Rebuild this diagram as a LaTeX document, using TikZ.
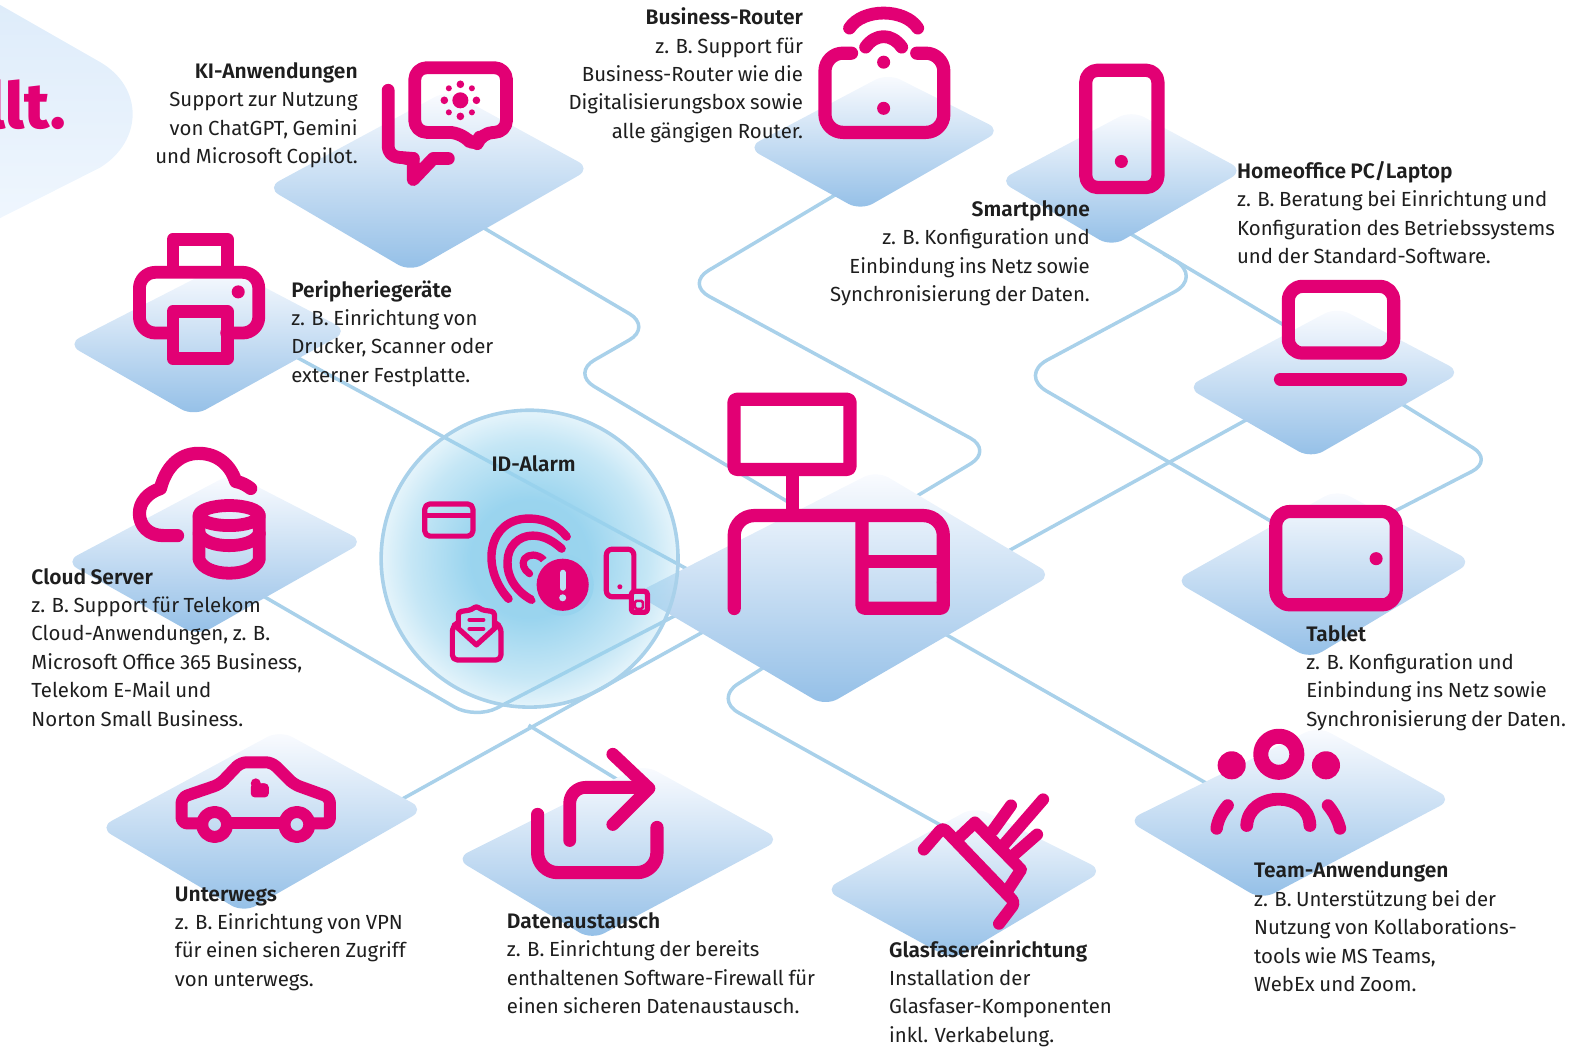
\documentclass[tikz,border=0pt]{standalone}
\usepackage{fontspec}
\setmainfont{Fira Sans}[BoldFont={Fira Sans SemiBold},WordSpace=0.85]
\newfontfamily\heavyf{Fira Sans ExtraBold}
\usetikzlibrary{calc,fadings}
\definecolor{mag}{HTML}{E20074}
\definecolor{lnk}{HTML}{A9D1EA}
\definecolor{txt}{HTML}{1E1E1E}
\definecolor{diaT}{HTML}{FBFCFF}
\definecolor{diaM}{HTML}{C9DEF5}
\definecolor{diaB}{HTML}{93BFE7}
\definecolor{pillT}{HTML}{DEECFA}
\definecolor{pillB}{HTML}{EFF6FE}
\definecolor{idblue}{HTML}{97D3EE}
\definecolor{idlight}{HTML}{BCE2F4}
\pgfdeclareradialshading{idsh}{\pgfpointorigin}{color(0bp)=(pgftransparent!0); color(10bp)=(pgftransparent!3); color(20bp)=(pgftransparent!45); color(27bp)=(pgftransparent!88); color(30bp)=(pgftransparent!100); color(50bp)=(pgftransparent!100)}
\pgfdeclarefading{idfade}{\pgfuseshading{idsh}}
\newcommand{\hd}[1]{{\fontsize{10.5}{14.2}\selectfont\bfseries #1}}
\tikzset{
  x=0.5015pt,y=-0.5015pt,
  link/.style={draw=lnk,line width=1.75pt,line join=round},
  ico/.style={draw=mag,line width=6.4pt,line cap=round,line join=round},
  thin ico/.style={draw=mag,line width=2.6pt,line cap=round,line join=round},
  txl/.style={anchor=north west,align=left,inner sep=0pt,text=txt,font=\fontsize{10.2}{14.2}\selectfont},
  txr/.style={anchor=north east,align=right,inner sep=0pt,text=txt,font=\fontsize{10.2}{14.2}\selectfont},
}
\newcommand{\dia}[6]{%
  \shade[top color=diaT,middle color=diaM,bottom color=diaB,rounded corners=7pt]
    (#1-8,#2) -- (#5,#6+4) -- (#3+8,#4) -- ($(#1-8,#2)+(#3+8,#4)-(#5,#6+4)+(0,6)$) -- cycle;}
\begin{document}
\begin{tikzpicture}
\useasboundingbox (0,0) rectangle (1568.3,1042.9);
\clip (0,0) rectangle (1568.3,1042.9);
% headline pill
\shade[top color=pillT,bottom color=pillB] (-5,2) -- (100,62) .. controls (143,87) and (143,140) .. (100,167) -- (-5,220) -- cycle;
\node[anchor=base east,inner sep=0pt,text=mag,font=\fontsize{32}{32}\selectfont\heavyf] (head) at (66,128.5) {llt.};
% connector anchor points (hidden under the diamonds)
\coordinate (ki) at (470,220);
\coordinate (per) at (290,353);
\coordinate (cld) at (255,590);
\coordinate (rou) at (845,187);
\coordinate (sma) at (1085,208);
\coordinate (lap) at (1290,330);
\coordinate (lapb) at (1385,395);
\coordinate (lapl) at (1260,409);
\coordinate (tab) at (1285,530);
\coordinate (tabr) at (1380,515);
\coordinate (cen) at (790,503);
\coordinate (cenr) at (905,500);
\coordinate (cenR) at (995,555);
\coordinate (cenL) at (690,570);
\coordinate (cenLb) at (690,605);
\coordinate (cenLc) at (710,625);
\coordinate (cenB) at (770,660);
\coordinate (cenBr) at (935,628);
\coordinate (unt) at (395,800);
\coordinate (dat) at (625,783);
\coordinate (gla) at (960,835);
\coordinate (tea) at (1210,785);
\coordinate (br) at (527,723);
\coordinate (hook) at (1160,253);
% connectors
\draw[link,rounded corners=13pt] (ki) -- (650,326) -- (570,372) -- (cen);
\draw[link,rounded corners=13pt] (rou) -- (684,283) -- (990,449) -- (cenr);
\draw[link] (sma) -- (lap);
\draw[link,rounded corners=16pt] (hook) -- (1199,276) -- (1016,374) -- (tab);
\draw[link,rounded corners=12pt] (lapb) -- (1489,459) -- (tabr);
\draw[link] (lapl) -- (cenR);
\draw[link] (per) -- (cenL);
\draw[link,rounded corners=12pt] (cld) -- (474,717) -- (cenLb);
\draw[link] (unt) -- (cenLc);
\draw[link] (br) -- (dat);
\draw[link] (cenBr) -- (tea);
\draw[link,rounded corners=14pt] (cenB) -- (712,697) -- (gla);
% diamonds
\dia{274}{187}{581}{168}{409}{267}
\dia{75}{343}{339}{330}{193}{411}
\dia{753}{147}{990}{130}{858}{206}
\dia{1004}{180}{1232}{170}{1108}{242}
\dia{1191}{386}{1449}{371}{1307}{453}
\dia{1179}{579}{1460}{560}{1306}{653}
\dia{73}{560}{355}{540}{197}{630}
\dia{107}{825}{415}{807}{243}{906}
\dia{462}{856}{770}{837}{590}{933}
\dia{830}{887}{1092}{868}{950}{953}
\dia{1132}{818}{1440}{797}{1258}{893}
\shade[top color=diaT,middle color=diaM,bottom color=diaB,rounded corners=7pt] (633,592) -- (823,704) -- (1049,573) -- (874,469) -- cycle;
% ID-Alarm circle
\fill[idblue,path fading=idfade] (528,557) circle [radius=148];
\draw[lnk,line width=1.8pt] (528,557) circle [radius=148];
% printer
\draw[ico,line cap=butt] (172.5,268) -- (172.5,238.5) -- (226.5,238.5) -- (226.5,268);
\draw[ico,rounded corners=8pt] (172,332) -- (139,332) -- (139,271.5) -- (258,271.5) -- (258,332) -- (226,332);
\draw[ico] (172.5,310.5) rectangle (226.5,357.5);
\fill[mag] (237.5,291) circle [radius=6.5];
% KI
\draw[ico,rounded corners=6pt] (460,132) -- (413.5,132) -- (413.5,67.5) -- (505,67.5) -- (505,132) -- (480,132) -- (474,148) -- cycle;
\fill[mag] (459,100) circle [radius=8];
\foreach \a/\b/\r in {459/84/3.8,475/100/3.8,459/116/3.8,443/100/3.8,447.5/88/3,470.5/88/3,447.5/112/3,470.5/112/3}{\fill[mag] (\a,\b) circle [radius=\r];}
\draw[ico,rounded corners=5pt] (387,90) -- (387,156) -- (412,158);
\draw[ico] (405,158) -- (412,158) -- (412,179) -- (432,158) -- (447,158);
% router
\draw[ico,line width=6.6pt,rounded corners=9pt] (849,53) -- (822.5,53) -- (822.5,132) -- (941,132) -- (941,53) -- (914,53);
\draw[ico] (863,47) .. controls (873,33) and (889,33) .. (899,47);
\draw[ico] (847,28) .. controls (860,8) and (902,8) .. (915,28);
\fill[mag] (881,62) circle [radius=6.5];
\fill[mag] (881,108) circle [radius=6.5];
% smartphone
\draw[ico,line width=6.6pt,rounded corners=6pt] (1082.5,70) rectangle (1154.5,187);
\fill[mag] (1118,161) circle [radius=6.5];
% laptop
\draw[ico,line width=6.6pt,rounded corners=7pt] (1284.5,285.5) rectangle (1389.5,352);
\draw[ico,line width=6.4pt] (1276.5,378) -- (1396.5,378);
% tablet
\draw[ico,line width=6.6pt,rounded corners=7pt] (1272,510) rectangle (1392,603);
\fill[mag] (1372,557) circle [radius=6.5];
% central network
\draw[ico,line width=6.6pt,rounded corners=1.5pt] (731.8,398) rectangle (847.5,468);
\draw[ico,line width=6.6pt,line cap=butt] (790,468) -- (790,514);
\draw[ico,line width=6.6pt,rounded corners=10pt] (732,606.7) -- (732,514) -- (940.5,514) -- (940.5,580);
\draw[ico,line width=6.6pt,line cap=butt,rounded corners=1.5pt] (940.5,580) -- (940.5,606.5) -- (859.4,606.5) -- (859.4,514);
\draw[ico,line width=6.6pt,line cap=butt] (859.4,560) -- (940.5,560);
% cloud + database
\draw[ico,line width=6.6pt] (177,534) -- (163,534) .. controls (148,534) and (139,524) .. (139,512) .. controls (139,500) and (148,491) .. (160,487) .. controls (165,467) and (178,452) .. (198,452) .. controls (217,452) and (230,464) .. (235,480) .. controls (241,481) and (246,484) .. (250,487);
\draw[ico] (228.5,514) ellipse [x radius=30,y radius=10];
\draw[ico] (198.5,514) -- (198.5,558) .. controls (205,576) and (252,576) .. (258.5,558) -- (258.5,514);
\draw[ico] (198.5,532) .. controls (205,548) and (252,548) .. (258.5,532);
% car
\draw[ico,line width=6pt,rounded corners=3pt] (197,821) -- (181,821) -- (181,795) -- (219,782) -- (240,760) -- (271,760) -- (293,782) -- (329,795) -- (329,821) -- (313,821);
\draw[ico,line width=6pt] (231,821) -- (278,821);
\draw[ico,line width=6pt] (214,822) circle [radius=12.5];
\draw[ico,line width=6pt] (296,822) circle [radius=12.5];
\fill[mag] (255,781) circle [radius=5];
\fill[mag] (262,787) circle [radius=6];
\fill[mag,rounded corners=2pt] (250,781) rectangle (268,795);
% data exchange
\draw[ico,line width=6.6pt,rounded corners=10pt] (536,812) -- (536,870) -- (655,870) -- (655,825);
\draw[ico,rounded corners=8pt] (568,838) -- (568,785) -- (645,785);
\draw[ico] (611,752) -- (647,786) -- (611,822);
% fibre
\draw[ico,line width=6pt,rounded corners=2pt] (921,847) -- (940,825) -- (1012,900) -- (996,921);
\draw[ico,line width=6pt] (953,838) -- (972,820) -- (1018,867) -- (1003,890);
\draw[ico,line width=6pt] (990,828) -- (1008,803);
\draw[ico,line width=6pt] (1001,842) -- (1040,797);
\draw[ico,line width=6pt] (1010,853) -- (1034,832);
% team
\draw[ico,line width=7.5pt] (1275,752) circle [radius=18];
\fill[mag] (1228,763) circle [radius=14];
\fill[mag] (1322,763) circle [radius=14];
\draw[ico] (1243,823) .. controls (1245,788) and (1305,788) .. (1306,823);
\draw[ico,line width=6.2pt] (1224,803) .. controls (1218,810) and (1214,818) .. (1213,826);
\draw[ico,line width=6.2pt] (1324,803) .. controls (1330,810) and (1334,818) .. (1336,826);
% ID-Alarm icons
\draw[thin ico,rounded corners=2.5pt] (423.5,502.5) rectangle (471.5,534.5);
\draw[thin ico,line cap=butt] (423,514) -- (472,514);
\draw[ico,line width=4.2pt] (507,597) .. controls (478,565) and (487,517) .. (527,517) .. controls (545,517) and (557,525) .. (565,535);
\draw[ico,line width=4.2pt] (530,598) .. controls (515,590) and (505,575) .. (506,560) .. controls (506,545) and (517,534) .. (531,534) .. controls (543,534) and (552,540) .. (560,547);
\draw[ico,line width=3.6pt] (528,572) .. controls (522,568) and (520,562) .. (523,557) .. controls (527,552) and (536,552) .. (542,558);
\fill[idblue] (561,583) circle [radius=31];
\fill[mag] (561,583) circle [radius=26];
\draw[idlight,line width=3pt,line cap=round] (561,571) -- (561,586);
\fill[idlight] (561,596) circle [radius=3.5];
\draw[thin ico,rounded corners=3pt] (604.5,547.5) rectangle (632,595);
\fill[mag] (618,585) circle [radius=2.5];
\draw[thin ico,fill=idlight,rounded corners=1.5pt] (629.5,589.5) rectangle (645.5,610.5);
\draw[mag,line width=1.3pt,rounded corners=.8pt] (633,599) rectangle (641,607);
\draw[thin ico,rounded corners=2.5pt] (456,621) -- (451,625) -- (451,658) -- (499.5,658) -- (499.5,625) -- (494,621);
\draw[thin ico,rounded corners=1.5pt] (457,625) -- (457,610) -- (470,608) -- (475,604) -- (480,608) -- (493,610) -- (493,625);
\draw[thin ico] (453,623) -- (475,643) -- (497,623);
\draw[mag,line width=2pt,line cap=round] (468,618) -- (482,618);
\draw[mag,line width=2pt,line cap=round] (468,627) -- (482,627);
% texts
\node[txr] (tki) at (357,62) {\hd{KI-Anwendungen}\\Support zur Nutzung\\von ChatGPT, Gemini\\und Microsoft Copilot.};
\node[txr] (trou) at (801,7.5) {\hd{Business-Router}\\z. B. Support für\\Business-Router wie die\\Digitalisierungsbox sowie\\alle gängigen Router.};
\node[txr] (tsma) at (1087,199.5) {\hd{Smartphone}\\z. B. Konfiguration und\\Einbindung ins Netz sowie\\Synchronisierung der Daten.};
\node[txl] (thom) at (1233,160.5) {\hd{Homeoffice PC/Laptop}\\z. B. Beratung bei Einrichtung und\\Konfiguration des Betriebssystems\\und der Standard-Software.};
\node[txl] (tper) at (290,279) {\hd{Peripheriegeräte}\\z. B. Einrichtung von\\Drucker, Scanner oder\\externer Festplatte.};
\node[txl,anchor=center] (tid) at (532,462) {\hd{ID-Alarm}};
\node[txl] (tcld) at (31,566) {\hd{Cloud Server}\\z. B. Support für Telekom\\Cloud-Anwendungen, z. B.\\Microsoft Office 365 Business,\\Telekom E-Mail und\\Norton Small Business.};
\node[txl] (ttab) at (1302,623) {\hd{Tablet}\\z. B. Konfiguration und\\Einbindung ins Netz sowie\\Synchronisierung der Daten.};
\node[txl] (ttea) at (1250,859) {\hd{Team-Anwendungen}\\z. B. Unterstützung bei der\\Nutzung von Kollaborations-\\tools wie MS Teams,\\WebEx und Zoom.};
\node[txl] (tunt) at (174,883.5) {\hd{Unterwegs}\\z. B. Einrichtung von VPN\\für einen sicheren Zugriff\\von unterwegs.};
\node[txl] (tdat) at (505,909.5) {\hd{Datenaustausch}\\z. B. Einrichtung der bereits\\enthaltenen Software-Firewall für\\einen sicheren Datenaustausch.};
\node[txl] (tgla) at (886,937) {\hd{Glasfasereinrichtung}\\Installation der\\Glasfaser-Komponenten\\inkl. Verkabelung.};
\end{tikzpicture}
\end{document}
